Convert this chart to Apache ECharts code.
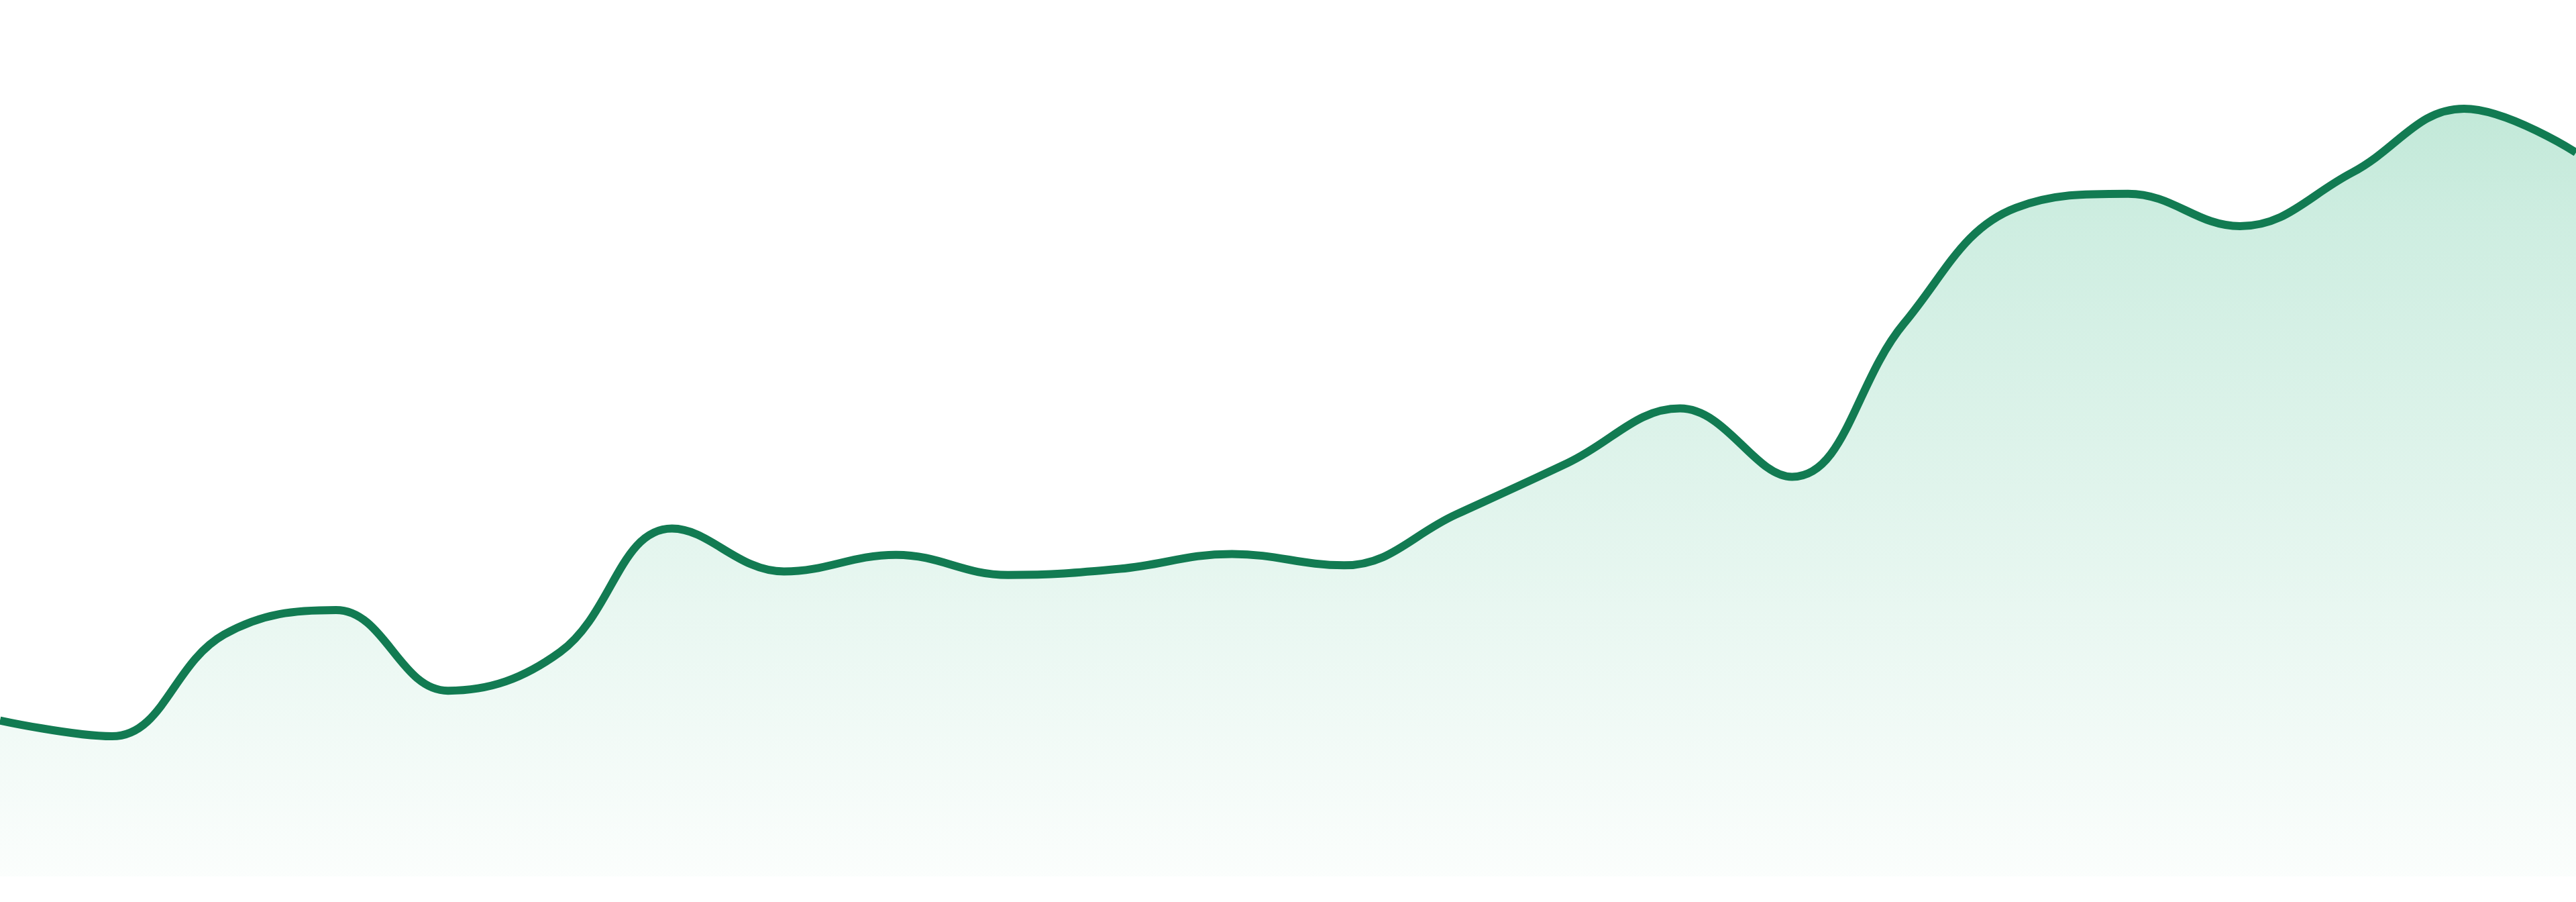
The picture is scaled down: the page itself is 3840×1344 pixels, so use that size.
<!DOCTYPE html>
<html>
<head>
<meta charset="utf-8">
<script src="https://cdn.jsdelivr.net/npm/echarts@6/dist/echarts.min.js"></script>
<style>
  html, body { margin: 0; padding: 0; background: #ffffff; }
  #chart { width: 3840px; height: 1344px; }
</style>
</head>
<body>
<div id="chart"></div>
<script>
const categories = ['1','2','3','4','5','6','7','8','9','10','11','12','13','14','15','16','17','18','19','20','21','22','23','24'];
const values = [17.8, 16.0, 27.6, 30.4, 21.2, 25.6, 39.7, 34.8, 36.7, 34.4, 35.1, 36.8, 35.5, 41.3, 47.2, 53.4, 45.6, 63.1, 76.3, 77.9, 74.2, 80.3, 87.6, 82.6];
const yMin = 0;
const yMax = 100;

const chart = echarts.init(document.getElementById('chart'), null, { renderer: 'canvas' });
chart.setOption({
  animation: false,
  backgroundColor: '#ffffff',
  grid: { left: 0, right: 0, top: 0, bottom: 38 },
  xAxis: {
    type: 'category',
    data: categories,
    boundaryGap: false,
    show: false
  },
  yAxis: {
    type: 'value',
    min: yMin,
    max: yMax,
    show: false
  },
  series: [{
    type: 'line',
    data: values,
    smooth: 0.4,
    symbol: 'none',
    lineStyle: { color: '#127b52', width: 12 },
    areaStyle: {
      color: new echarts.graphic.LinearGradient(0, 0, 0, 1, [
        { offset: 0, color: '#a8dfc8' },
        { offset: 0.15, color: '#b9e6d4' },
        { offset: 1, color: '#f9fdfb' }
      ])
    }
  }]
});
</script>
</body>
</html>
